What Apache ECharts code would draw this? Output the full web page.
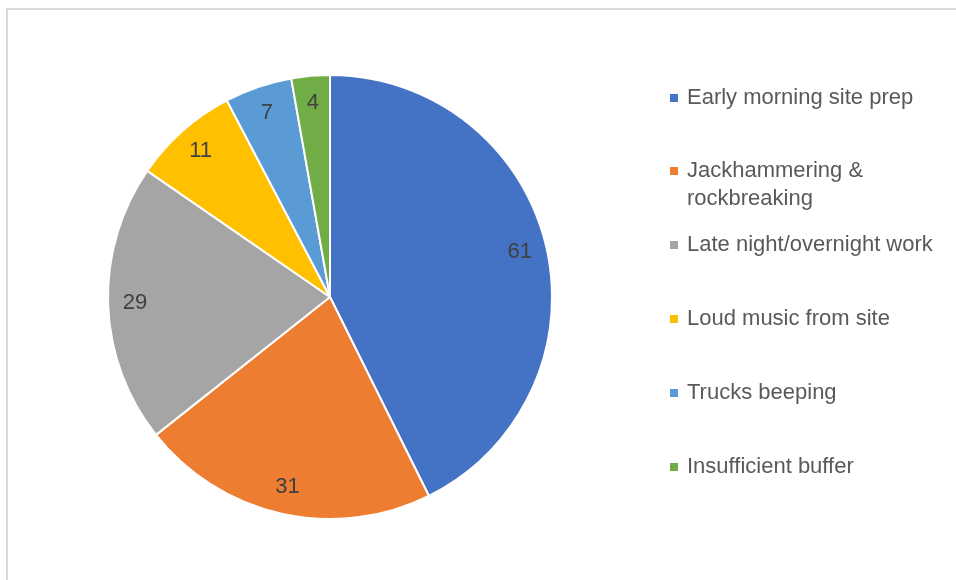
<!DOCTYPE html>
<html>
<head>
<meta charset="utf-8">
<script src="https://cdn.jsdelivr.net/npm/echarts@6/dist/echarts.min.js"></script>
<style>
html,body{margin:0;padding:0;background:#fff;}
#chart{width:956px;height:580px;}
</style>
</head>
<body>
<div id="chart"></div>
<script>
const categories = ['Early morning site prep', 'Jackhammering & rockbreaking', 'Late night/overnight work', 'Loud music from site', 'Trucks beeping', 'Insufficient buffer'];
const values = [61, 31, 29, 11, 7, 4];
const colors = ['#4472C4', '#ED7D31', '#A5A5A5', '#FFC000', '#5B9BD5', '#70AD47'];

const pieData = categories.map((c, i) => ({ name: c, value: values[i] }));
const FONT = 'Liberation Sans';

// wrapped legend names: an empty leading line keeps the first line level with the marker
function wrapName(n) {
  return n.indexOf('& ') >= 0 ? '\n' + n.replace('& ', '&\n') : n;
}

function legendCfg(top, data) {
  return {
    orient: 'vertical',
    left: 668,
    top: top,
    padding: 0,
    itemWidth: 10,
    itemHeight: 10,
    itemGap: 46,
    icon: 'rect',
    data: data,
    formatter: wrapName,
    textStyle: {
      fontFamily: FONT, fontSize: 22, color: '#595959',
      lineHeight: 28, padding: [0, 0, 0, 3]
    }
  };
}

const chart = echarts.init(document.getElementById('chart'));
chart.setOption({
  animation: false,
  color: colors,
  graphic: [{
    type: 'rect',
    shape: { x: 7, y: 9, width: 1000, height: 1000 },
    style: { fill: 'none', stroke: '#d9d9d9', lineWidth: 2 },
    silent: true, z: -1
  }],
  legend: [
    legendCfg(84, [categories[0]]),
    legendCfg(129, [categories[1]]),
    legendCfg(231, categories.slice(2))
  ],
  series: [{
    type: 'pie',
    center: [330, 297],
    radius: [0, 222],
    startAngle: 90,
    clockwise: true,
    data: pieData,
    itemStyle: { borderColor: '#fff', borderWidth: 2 },
    label: { show: false },
    labelLine: { show: false },
    emphasis: { disabled: true }
  }, {
    type: 'pie',
    center: [330, 297],
    radius: [162, 222],
    startAngle: 90,
    clockwise: true,
    silent: true,
    data: pieData,
    itemStyle: { color: 'rgba(0,0,0,0)', borderWidth: 0 },
    label: {
      show: true, position: 'inside', formatter: '{c}',
      fontFamily: FONT, fontSize: 22, color: '#404040'
    },
    labelLine: { show: false },
    emphasis: { disabled: true }
  }]
});
</script>
</body>
</html>
